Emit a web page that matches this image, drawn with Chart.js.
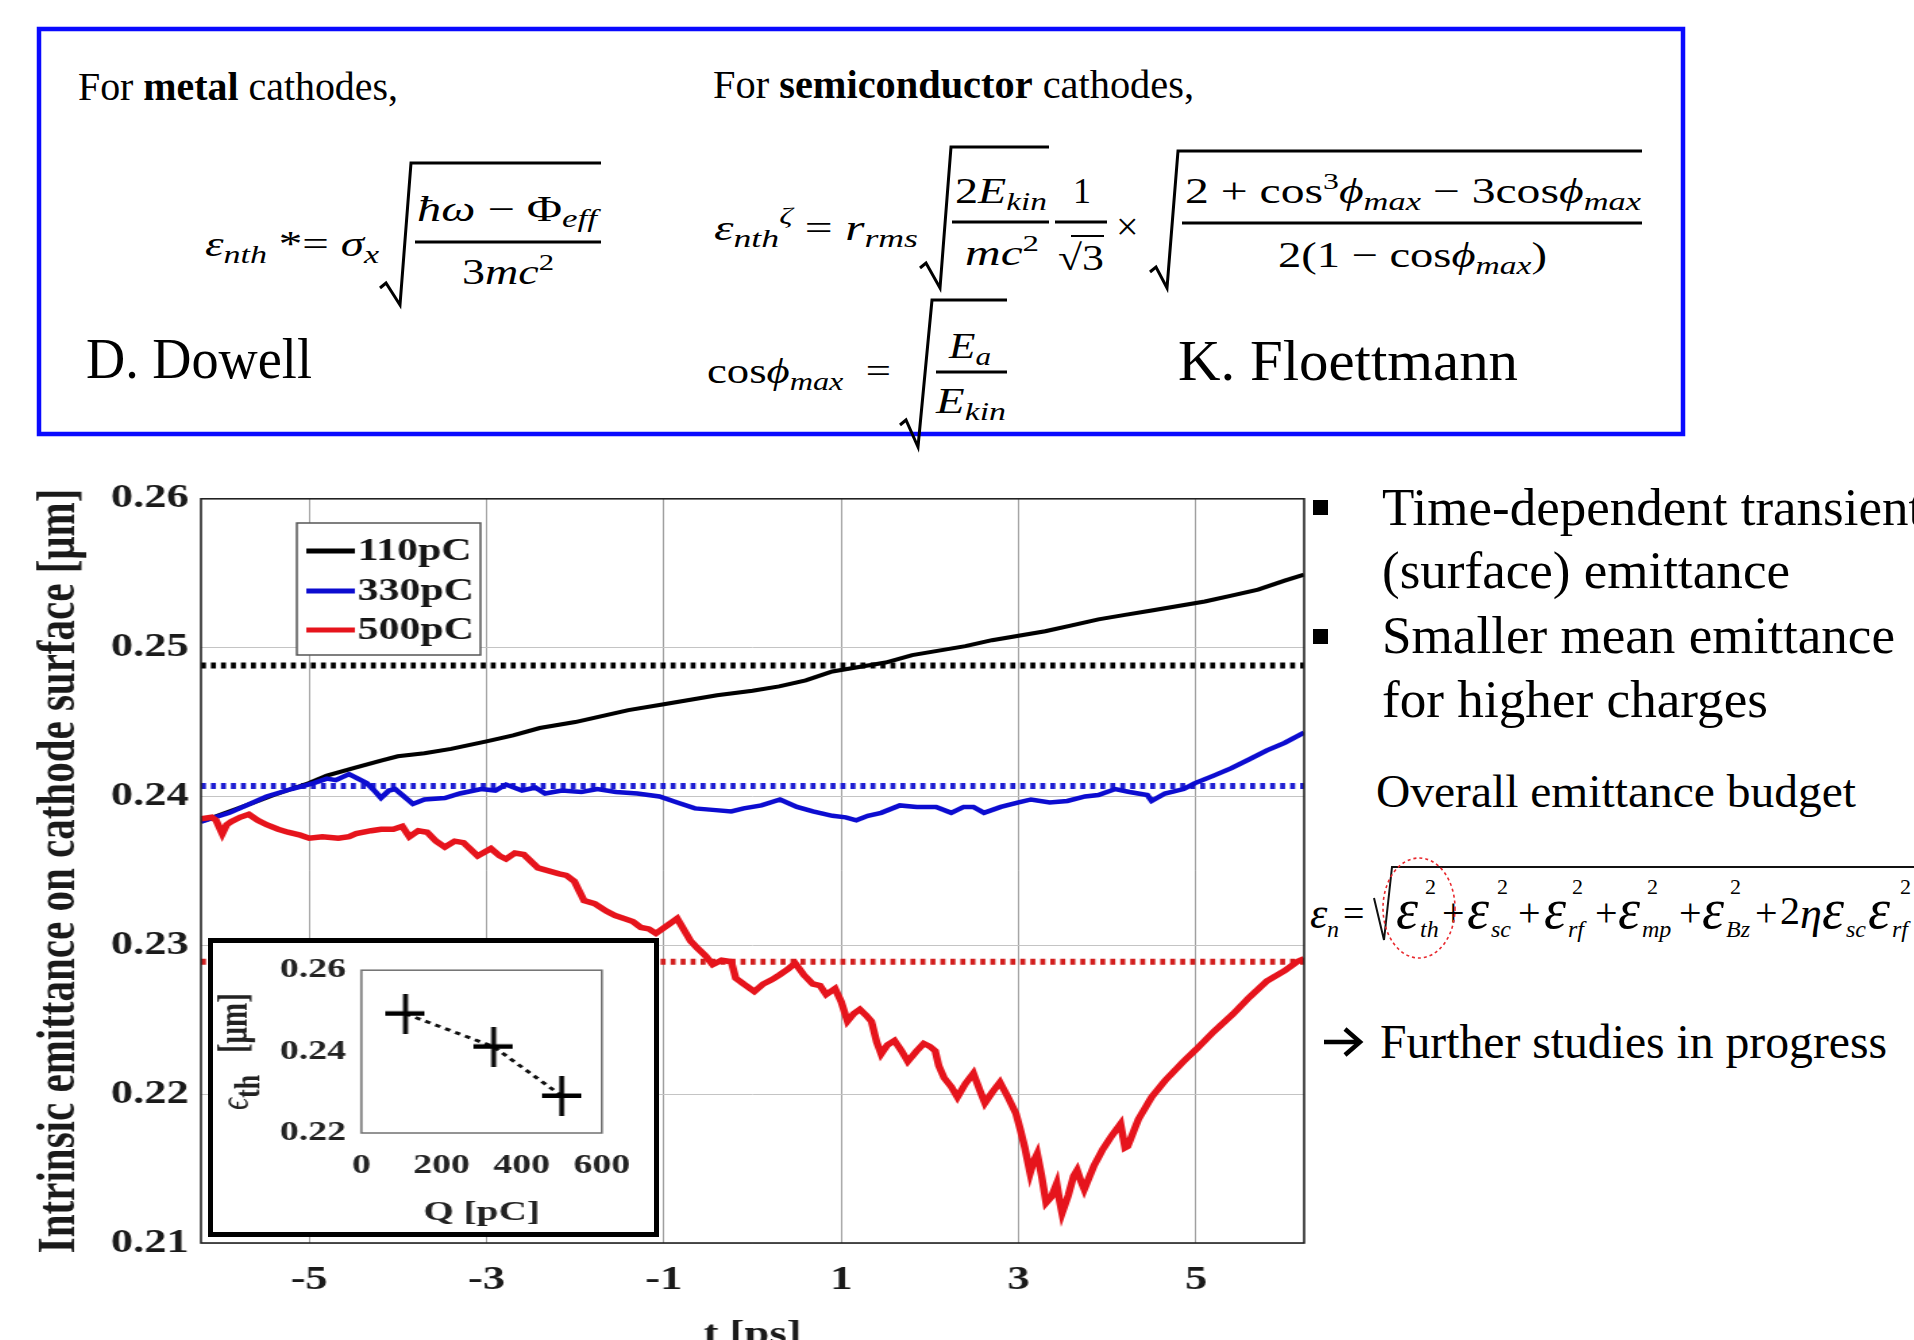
<!DOCTYPE html>
<html>
<head>
<meta charset="utf-8">
<script src="https://cdn.jsdelivr.net/npm/chart.js@4.4.1/dist/chart.umd.min.js"></script>
<style>
  html, body { margin:0; padding:0; background:#fff; }
  body { width:1914px; height:1340px; overflow:hidden; position:relative; }
  #page { position:absolute; left:0; top:0; }
  #page .t { font-family:"Liberation Serif", "Times New Roman", serif; fill:#000; white-space:pre; }
  #page .i { font-style:italic; }
  #page .b { font-weight:bold; }
  #insetBox { position:absolute; left:208px; top:938px; width:441px; height:289px; border:5px solid #000; background:#fff; }
</style>
</head>
<body>

<svg id="page" width="1914" height="1340" xmlns="http://www.w3.org/2000/svg">
  <!-- formula box -->
  <rect x="39" y="29" width="1644" height="405" fill="none" stroke="#0a0aff" stroke-width="4.5"/>
  <text class="t" x="78" y="100" font-size="39" textLength="320" lengthAdjust="spacingAndGlyphs">For <tspan class="b">metal</tspan> cathodes,</text>
  <text class="t" x="713" y="98" font-size="39" textLength="481" lengthAdjust="spacingAndGlyphs">For <tspan class="b">semiconductor</tspan> cathodes,</text>

  <g stroke="#000" stroke-width="3" fill="none">
    <path d="M380 288 L386 283 L400 305 L411 163 L601 163"/>
    <path d="M415 242 H601"/>
    <path d="M920 268 L926 263 L940 288 L951 147 L1049 147"/>
    <path d="M952 222 H1049"/>
    <path d="M1055 222 H1107"/>
    <path d="M1071 236 H1104" stroke-width="2"/>
    <path d="M1150 272 L1156 267 L1167 288 L1178 151 L1642 151"/>
    <path d="M1182 223 H1642"/>
    <path d="M900 425 L906 420 L918 447 L932 300 L1007 300"/>
    <path d="M936 372 H1007"/>
  </g>

  <text class="t i" x="205" y="256" font-size="36" textLength="174" lengthAdjust="spacingAndGlyphs">ε<tspan font-size="26" dy="7">nth</tspan><tspan dy="-7" font-style="normal"> *= </tspan>σ<tspan font-size="26" dy="7">x</tspan></text>
  <text class="t i" x="417" y="221" font-size="36" textLength="180" lengthAdjust="spacingAndGlyphs">ħω <tspan font-style="normal">− Φ</tspan><tspan font-size="26" dy="6">eff</tspan></text>
  <text class="t" x="462" y="284" font-size="36" textLength="92" lengthAdjust="spacingAndGlyphs">3<tspan class="i">mc</tspan><tspan font-size="24" dy="-14">2</tspan></text>

  <text class="t i" x="714" y="240" font-size="36" textLength="204" lengthAdjust="spacingAndGlyphs">ε<tspan font-size="26" dy="7">nth</tspan><tspan font-size="24" dy="-24">ζ</tspan><tspan dy="17" font-style="normal"> = </tspan>r<tspan font-size="26" dy="7">rms</tspan></text>
  <text class="t" x="955" y="203" font-size="36" textLength="92" lengthAdjust="spacingAndGlyphs">2<tspan class="i">E</tspan><tspan class="i" font-size="26" dy="7">kin</tspan></text>
  <text class="t" x="965" y="265" font-size="36" textLength="74" lengthAdjust="spacingAndGlyphs"><tspan class="i">mc</tspan><tspan font-size="24" dy="-14">2</tspan></text>
  <text class="t" x="1073" y="203" font-size="36">1</text>
  <text class="t" x="1058" y="270" font-size="36" textLength="46" lengthAdjust="spacingAndGlyphs">√3</text>
  <text class="t" x="1116" y="240" font-size="40">×</text>
  <text class="t" x="1185" y="203" font-size="36" textLength="456" lengthAdjust="spacingAndGlyphs">2 + cos<tspan font-size="24" dy="-14">3</tspan><tspan class="i" dy="14">ϕ</tspan><tspan class="i" font-size="26" dy="7">max</tspan><tspan dy="-7"> − 3cos</tspan><tspan class="i">ϕ</tspan><tspan class="i" font-size="26" dy="7">max</tspan></text>
  <text class="t" x="1278" y="267" font-size="36" textLength="269" lengthAdjust="spacingAndGlyphs">2(1 − cos<tspan class="i">ϕ</tspan><tspan class="i" font-size="26" dy="7">max</tspan><tspan dy="-7">)</tspan></text>

  <text class="t" x="707" y="383" font-size="36" textLength="184" lengthAdjust="spacingAndGlyphs">cos<tspan class="i">ϕ</tspan><tspan class="i" font-size="26" dy="7">max</tspan><tspan dy="-7">  =</tspan></text>
  <text class="t i" x="949" y="358" font-size="36" textLength="42" lengthAdjust="spacingAndGlyphs">E<tspan font-size="26" dy="7">a</tspan></text>
  <text class="t i" x="936" y="413" font-size="36" textLength="70" lengthAdjust="spacingAndGlyphs">E<tspan font-size="26" dy="7">kin</tspan></text>

  <text class="t" x="86" y="378" font-size="56" textLength="226" lengthAdjust="spacingAndGlyphs">D. Dowell</text>
  <text class="t" x="1178" y="380" font-size="56" textLength="340" lengthAdjust="spacingAndGlyphs">K. Floettmann</text>

  <!-- right column -->
  <rect x="1313" y="500" width="15" height="15" fill="#000"/>
  <rect x="1313" y="629" width="15" height="15" fill="#000"/>
  <text class="t" x="1382" y="525" font-size="53">Time-dependent transient</text>
  <text class="t" x="1382" y="588" font-size="53" textLength="408" lengthAdjust="spacingAndGlyphs">(surface) emittance</text>
  <text class="t" x="1382" y="653" font-size="53" textLength="513" lengthAdjust="spacingAndGlyphs">Smaller mean emittance</text>
  <text class="t" x="1382" y="717" font-size="53" textLength="386" lengthAdjust="spacingAndGlyphs">for higher charges</text>
  <text class="t" x="1376" y="807" font-size="46" textLength="480" lengthAdjust="spacingAndGlyphs" fill="#1a1a1a">Overall emittance budget</text>
  <g id="budget"></g>
  <path d="M1374 898 L1384 940 L1392 867 L1914 867" stroke="#111" stroke-width="2" fill="none"/>
  <ellipse cx="1419" cy="908" rx="36" ry="50" fill="none" stroke="#e8282d" stroke-width="1.6" stroke-dasharray="3 3"/>
  <g stroke="#000" stroke-width="4.5" fill="none">
    <path d="M1324 1042 H1358"/>
    <path d="M1345 1029 L1360 1042 L1345 1055"/>
  </g>
  <text class="t" x="1380" y="1058" font-size="48" textLength="507" lengthAdjust="spacingAndGlyphs">Further studies in progress</text>
</svg>

<canvas id="main" width="962" height="885" style="position:absolute;left:20px;top:470px;width:1299px;height:885px"></canvas>
<div id="insetBox"><canvas id="inset" width="315" height="289" style="display:block;width:441px;height:289px"></canvas></div>

<script>
const SERIF = '"Liberation Serif", "Times New Roman", serif';

// ─── DATA ─────────────────────────────────────────────────────────────────────
const seriesLabels = ['110pC', '330pC', '500pC'];
const seriesColors = ['#000000', '#0c0cd0', '#e6141c'];
const meanColors   = ['#000000', '#1e1ed2', '#d21e1e'];
const xTicks = [-5, -3, -1, 1, 3, 5];
const tRange = [-6.22, 6.22];

// t [ps] / intrinsic emittance [um]
const t110 = [-6.22,-5.8,-5.4,-5.0,-4.8,-4.5,-4.2,-4.0,-3.7,-3.4,-3.0,-2.7,-2.4,-2.0,-1.7,-1.4,-1.0,-0.7,-0.4,0.0,
  0.3,0.6,0.9,1.2,1.5,1.8,2.1,2.4,2.7,3.0,3.3,3.6,3.9,4.2,4.5,4.8,5.1,5.4,5.7,6.0,6.22];
const e110 = [0.2383,0.2392,0.2401,0.2409,0.2414,0.2419,0.2424,0.2427,0.2429,0.2432,0.2437,0.2441,0.2446,0.2450,0.2454,0.2458,0.2462,0.2465,0.2468,0.2471,
  0.2474,0.2478,0.2484,0.2487,0.2490,0.2495,0.2498,0.2501,0.2505,0.2508,0.2511,0.2515,0.2519,0.2522,0.2525,0.2528,0.2531,0.2535,0.2539,0.2545,0.2549];

const t330 = [-6.22,-5.9,-5.48,-5.2,-4.95,-4.8,-4.7,-4.55,-4.45,-4.35,
  -4.25,-4.19,-4.1,-4.03,-3.95,-3.83,-3.7,-3.47,-3.3,-3.06,
  -2.9,-2.78,-2.6,-2.45,-2.34,-2.15,-1.93,-1.75,-1.54,-1.3,
  -1.05,-0.85,-0.65,-0.45,-0.24,-0.1,0.1,0.31,0.5,0.68,
  0.9,1.05,1.17,1.3,1.45,1.66,1.85,2.07,2.24,2.38,
  2.49,2.61,2.8,3.0,3.14,3.35,3.55,3.75,3.9,4.09,
  4.25,4.45,4.5,4.65,4.86,4.99,5.2,5.4,5.6,5.8,
  6.0,6.22];
const e330 = [0.2383,0.2389,0.2400,0.2405,0.2409,0.2412,0.2411,0.2415,0.2412,0.2409,
  0.2403,0.2399,0.2404,0.2405,0.2401,0.2395,0.2398,0.2399,0.2402,0.2405,
  0.2404,0.2408,0.2404,0.2406,0.2402,0.2404,0.2403,0.2405,0.2403,0.2402,
  0.2400,0.2396,0.2392,0.2391,0.2390,0.2392,0.2394,0.2398,0.2393,0.2390,
  0.2387,0.2386,0.2384,0.2387,0.2389,0.2394,0.2393,0.2393,0.2389,0.2393,
  0.2393,0.2389,0.2393,0.2396,0.2398,0.2396,0.2397,0.2400,0.2401,0.2405,
  0.2403,0.2401,0.2397,0.2402,0.2405,0.2409,0.2414,0.2419,0.2425,0.2431,
  0.2436,0.2443];

const t500 = [-6.22,-6.1,-6.05,-5.98,-5.93,-5.88,-5.78,-5.68,-5.58,-5.48,
  -5.35,-5.24,-5.1,-5.0,-4.85,-4.67,-4.55,-4.47,-4.3,-4.19,
  -4.05,-3.95,-3.87,-3.77,-3.67,-3.57,-3.47,-3.36,-3.26,-3.1,
  -2.95,-2.85,-2.78,-2.68,-2.58,-2.42,-2.3,-2.18,-2.1,-2.01,
  -1.9,-1.78,-1.65,-1.55,-1.45,-1.35,-1.26,-1.17,-1.09,-0.97,
  -0.85,-0.77,-0.7,-0.62,-0.53,-0.45,-0.35,-0.24,-0.19,-0.1,
  0.02,0.12,0.22,0.3,0.4,0.48,0.58,0.68,0.76,0.83,
  0.93,1.0,1.07,1.14,1.21,1.28,1.34,1.4,1.45,1.52,
  1.6,1.68,1.75,1.85,1.93,2.0,2.06,2.1,2.16,2.24,
  2.31,2.4,2.49,2.56,2.62,2.7,2.79,2.88,2.97,3.02,
  3.07,3.13,3.17,3.21,3.26,3.31,3.37,3.43,3.46,3.49,
  3.56,3.62,3.66,3.7,3.74,3.85,3.95,4.05,4.15,4.2,
  4.23,4.35,4.5,4.65,4.86,5.0,5.2,5.42,5.6,5.8,
  6.0,6.14,6.22];
const e500 = [0.2385,0.2386,0.2384,0.2375,0.2381,0.2383,0.2386,0.2388,0.2384,0.2381,
  0.2378,0.2376,0.2374,0.2372,0.2373,0.2372,0.2373,0.2375,0.2377,0.2378,
  0.2378,0.2380,0.2373,0.2377,0.2376,0.2370,0.2366,0.2370,0.2369,0.2360,
  0.2365,0.2360,0.2358,0.2362,0.2361,0.2352,0.2350,0.2348,0.2347,0.2343,
  0.2330,0.2328,0.2323,0.2320,0.2318,0.2316,0.2312,0.2311,0.2308,0.2313,
  0.2318,0.2310,0.2303,0.2298,0.2293,0.2287,0.2290,0.2289,0.2278,0.2274,
  0.2269,0.2274,0.2277,0.2280,0.2284,0.2288,0.2280,0.2274,0.2273,0.2267,
  0.2271,0.2262,0.2249,0.2254,0.2257,0.2253,0.2249,0.2235,0.2227,0.2233,
  0.2236,0.2229,0.2222,0.2229,0.2234,0.2232,0.2229,0.2219,0.2211,0.2205,
  0.2198,0.2207,0.2214,0.2203,0.2194,0.2201,0.2208,0.2198,0.2187,0.2176,
  0.2164,0.2147,0.2155,0.2160,0.2145,0.2127,0.2131,0.2140,0.2129,0.2120,
  0.2132,0.2145,0.2149,0.2142,0.2136,0.2152,0.2163,0.2172,0.2180,0.2164,
  0.2165,0.2183,0.2198,0.2209,0.2222,0.2230,0.2242,0.2254,0.2265,0.2276,
  0.2283,0.2289,0.2291];

// time-averaged emittance (dotted lines)
const meanEmit = [0.2488, 0.2407, 0.2289];

// inset: mean emittance vs charge
const charges   = [110, 330, 500];
const insetEmit = [0.2493, 0.2412, 0.2291];

// ─── formula on the right (layout only) ───────────────────────────────────────
const budget = [
  ['ε',1310,928,44,1],['n',1327,937,24,1],['=',1343,926,38,0],
  ['ε',1396,928,56,1],['th',1420,937,24,1],['2',1425,894,22,0],['+',1442,926,40,0],
  ['ε',1467,928,56,1],['sc',1491,937,24,1],['2',1497,894,22,0],['+',1518,926,40,0],
  ['ε',1544,928,56,1],['rf',1568,937,24,1],['2',1572,894,22,0],['+',1595,926,40,0],
  ['ε',1618,928,56,1],['mp',1642,937,24,1],['2',1647,894,22,0],['+',1679,926,40,0],
  ['ε',1702,928,56,1],['Bz',1726,937,24,1],['2',1730,894,22,0],['+',1755,926,40,0],
  ['2',1780,924,40,0],['η',1800,928,44,1],
  ['ε',1822,928,56,1],['sc',1846,937,24,1],
  ['ε',1868,928,56,1],['rf',1892,937,24,1],['2',1900,894,22,0]
];
const g = document.getElementById('budget');
budget.forEach(([s,x,y,size,it]) => {
  const el = document.createElementNS('http://www.w3.org/2000/svg','text');
  el.setAttribute('class', 't' + (it ? ' i' : ''));
  el.setAttribute('x', x); el.setAttribute('y', y);
  el.setAttribute('font-size', size);
  el.setAttribute('fill', '#141428');
  el.textContent = s;
  g.appendChild(el);
});

// ─── plugins ──────────────────────────────────────────────────────────────────
const frame = {
  id: 'frame',
  afterDatasetsDraw(chart, args, o) {
    const {ctx, chartArea: a} = chart;
    ctx.save();
    ctx.strokeStyle = o.color; ctx.lineWidth = o.width;
    ctx.strokeRect(a.left, a.top, a.right - a.left, a.bottom - a.top);
    ctx.restore();
  }
};

const boxLegend = {
  id: 'boxLegend',
  afterDatasetsDraw(chart, args, o) {
    const {ctx} = chart;
    const items = chart.data.datasets.filter(d => d.label);
    ctx.save();
    ctx.fillStyle = '#fff';
    ctx.fillRect(o.x, o.y, o.w, o.h);
    ctx.strokeStyle = '#555'; ctx.lineWidth = 1.5;
    ctx.strokeRect(o.x, o.y, o.w, o.h);
    ctx.font = 'bold 31px ' + SERIF;
    ctx.textBaseline = 'middle';
    items.forEach((d, i) => {
      const y = o.rows[i];
      ctx.strokeStyle = d.borderColor; ctx.lineWidth = 5;
      ctx.beginPath(); ctx.moveTo(o.lx0, y); ctx.lineTo(o.lx1, y); ctx.stroke();
      ctx.fillStyle = '#151515';
      ctx.fillText(d.label, o.tx, y + 1);
    });
    ctx.restore();
  }
};

const insetYTitle = {
  id: 'insetYTitle',
  afterDraw(chart, args, o) {
    const {ctx, chartArea: a} = chart;
    ctx.save();
    ctx.translate(o.x, (a.top + a.bottom) / 2);
    ctx.rotate(-Math.PI / 2);
    ctx.textBaseline = 'middle';
    ctx.fillStyle = '#222';
    const parts = [
      ['ϵ', 'italic 30px ' + SERIF, 0],
      ['th', 'bold 26px ' + SERIF, 9],
      ['   [μm]', 'bold 29px ' + SERIF, 0]
    ];
    let total = 0;
    parts.forEach(p => { ctx.font = p[1]; p.push(ctx.measureText(p[0]).width); total += p[3]; });
    let x = -total / 2;
    parts.forEach(p => { ctx.font = p[1]; ctx.fillText(p[0], x, p[2]); x += p[3]; });
    ctx.restore();
  }
};

// ─── main chart ───────────────────────────────────────────────────────────────
const pts = (ts, vs) => ts.map((t, i) => ({x: t, y: vs[i]}));
const curves = [[t110, e110], [t330, e330], [t500, e500]];
const widths = [4, 4.5, 5.5];

const datasets = curves.map(([ts, vs], i) => ({
  label: seriesLabels[i], data: pts(ts, vs),
  borderColor: seriesColors[i], borderWidth: widths[i],
  pointRadius: 0, tension: 0, order: 3 - i
}));
meanEmit.forEach((m, i) => datasets.push({
  data: [{x: tRange[0], y: m}, {x: tRange[1], y: m}],
  borderColor: meanColors[i], borderWidth: 6, borderDash: [3.7, 3.7],
  borderCapStyle: 'butt', pointRadius: 0, order: 10
}));

const tickFont = {family: SERIF, size: 33, weight: 'bold'};

new Chart(document.getElementById('main'), {
  type: 'line',
  data: {datasets},
  plugins: [frame, boxLegend],
  options: {
    responsive: false, animation: false,
    layout: {padding: {top: 26, right: 11, bottom: 0, left: 0}},
    plugins: {
      legend: {display: false}, tooltip: {enabled: false},
      frame: {color: '#222', width: 1.6},
      boxLegend: {x: 205, y: 53, w: 136, h: 132, lx0: 212, lx1: 248, tx: 250, rows: [81, 121, 160]}
    },
    scales: {
      x: {
        type: 'linear', min: tRange[0], max: tRange[1],
        afterBuildTicks: s => { s.ticks = xTicks.map(v => ({value: v})); },
        afterFit: s => { s.height = 112; },
        ticks: {font: tickFont, color: '#1a1a1a', padding: 18, callback: v => String(v)},
        grid: {color: '#a0a0a0', lineWidth: 1, drawTicks: false},
        border: {display: false},
        title: {display: true, text: 't [ps]', font: tickFont, color: '#1a1a1a', padding: 0}
      },
      y: {
        min: 0.21, max: 0.26,
        afterFit: s => { s.width = 134; },
        ticks: {stepSize: 0.01, font: tickFont, color: '#1a1a1a', padding: 9, callback: v => v.toFixed(2)},
        grid: {color: '#c4c4c4', lineWidth: 1, drawTicks: false},
        border: {display: false},
        title: {display: true, text: 'Intrinsic emittance on cathode surface [μm]',
                font: {family: SERIF, size: 41, weight: 'bold'}, color: '#1a1a1a', padding: {top: 5, bottom: 0}}
      }
    }
  }
});

// ─── inset ────────────────────────────────────────────────────────────────────
const cross = document.createElement('canvas');
cross.width = 28; cross.height = 40;
const cc = cross.getContext('2d');
cc.fillStyle = '#000';
cc.fillRect(0, 17.5, 28, 4.5);
cc.fillRect(12.3, 0, 3.4, 40);

const insetFont = {family: SERIF, size: 27, weight: 'bold'};

new Chart(document.getElementById('inset'), {
  type: 'line',
  data: {datasets: [{
    data: charges.map((q, i) => ({x: q, y: insetEmit[i]})),
    borderColor: '#111', borderWidth: 3, borderDash: [4, 4],
    pointStyle: cross, pointRadius: 12, tension: 0
  }]},
  plugins: [frame, insetYTitle],
  options: {
    responsive: false, animation: false,
    layout: {padding: {top: 18, right: 26, bottom: 0, left: 0}},
    plugins: {
      legend: {display: false}, tooltip: {enabled: false},
      frame: {color: '#707070', width: 1.5},
      insetYTitle: {x: 17}
    },
    scales: {
      x: {
        type: 'linear', min: 0, max: 600,
        afterFit: s => { s.height = 99; },
        ticks: {stepSize: 200, font: insetFont, color: '#222', padding: 17},
        grid: {display: false, drawTicks: false},
        border: {display: false},
        title: {display: true, text: 'Q [pC]', font: {family: SERIF, size: 28, weight: 'bold'}, color: '#222', padding: {top: 0, bottom: 2}}
      },
      y: {
        min: 0.22, max: 0.26,
        afterFit: s => { s.width = 106; },
        ticks: {stepSize: 0.02, font: insetFont, color: '#222', padding: 11, callback: v => v.toFixed(2)},
        grid: {display: false, drawTicks: false},
        border: {display: false}
      }
    }
  }
});
</script>
</body>
</html>
